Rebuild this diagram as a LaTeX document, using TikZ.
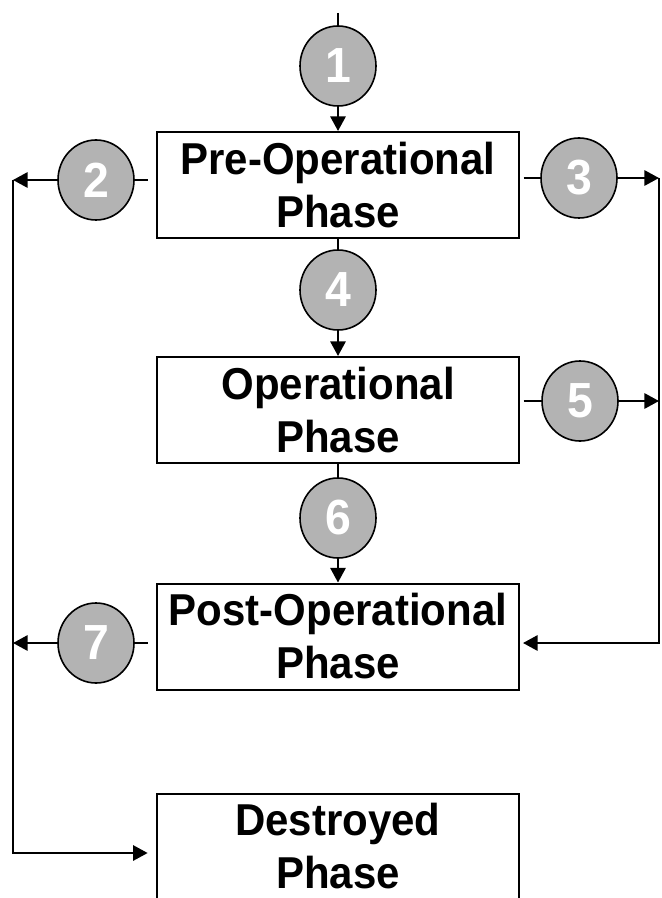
\documentclass[tikz,border=0pt]{standalone}
\usepackage{fontspec}
\setmainfont{Liberation Sans}[FakeStretch=0.94]
\usetikzlibrary{arrows.meta,shapes.geometric}
\definecolor{numgray}{RGB}{179,179,179}
\tikzset{
    phase/.style={rectangle, draw, line width=1.5pt, minimum width=272pt, minimum height=79.5pt, inner sep=0pt, align=center, font=\fontsize{33.5}{39.75}\selectfont\bfseries},
    flow/.style={-{Triangle[length=11pt,width=11.5pt]}}
}

\begin{document}
\begin{tikzpicture}[x=0.75pt,y=-0.75pt]
    \useasboundingbox (0,0) rectangle (661,898);
    \begin{scope}[shift={(0,0)}]
        \node[phase] (pre) at (338,185) {Pre-Operational\\Phase};
        \node[phase] (op) at (338,410) {Operational\\Phase};
        \node[phase] (post) at (338,636.5) {Post-Operational\\Phase};
        \node[phase] (dest) at (338,846.5) {Destroyed\\Phase};
        \begin{scope}[every node/.style={ellipse, fill=numgray, draw, line width=1.2pt, minimum width=57pt, minimum height=60pt, inner sep=0pt, text=white, font=\fontsize{37}{37}\selectfont\bfseries}]
            \node (c1) at (338,66) {1};
            \node (c2) at (96,180) {2};
            \node (c3) at (579,178) {3};
            \node (c4) at (338,290) {4};
            \node (c5) at (580,401) {5};
            \node (c6) at (338,518) {6};
            \node (c7) at (96,643) {7};
        \end{scope}
        \coordinate (in) at (338,13);
        \coordinate (lt) at (13,180);
        \coordinate (lb) at (13,853);
        \coordinate (rt) at (659,178);
        \coordinate (rb) at (659,643);
        \begin{scope}[every edge/.style={draw, line width=1.6pt}]
            \path [-] (in) edge (c1);
            \path [flow] (c1) edge (pre);
            \path [-] (pre) edge (c4);
            \path [flow] (c4) edge (op);
            \path [-] (op) edge (c6);
            \path [flow] (c6) edge (post);
            \path [-, shorten <=6pt] (pre.west |- c2) edge (c2);
            \path [flow] (c2) edge (lt);
            \path [-, shorten <=2.5pt] (pre.east |- c3) edge (c3);
            \path [flow] (c3) edge (rt);
            \path [-, shorten <=2.5pt] (op.east |- c5) edge (c5);
            \path [flow] (c5) edge (c5 -| rt);
            \path [-, shorten <=6pt] (post.west |- c7) edge (c7);
            \path [flow] (c7) edge (c7 -| lt);
        \end{scope}
        \draw [flow, line width=1.6pt, shorten >=6pt] (lt) |- (dest.west |- lb);
        \draw [flow, line width=1.6pt, shorten >=2pt] (rt) |- (post.east |- rb);
    \end{scope}
\end{tikzpicture}
\end{document}
